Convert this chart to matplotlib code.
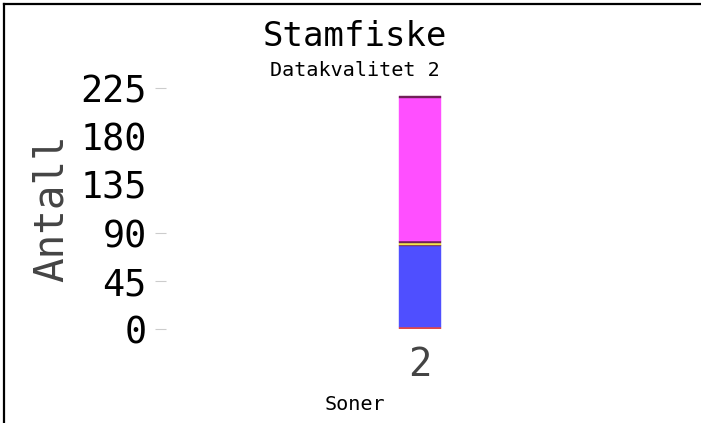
import matplotlib as mpl
mpl.use('Agg')
import matplotlib.pyplot as plt
from matplotlib.lines import Line2D

plt.rcParams['font.family'] = ['DejaVu Sans Mono']

# data
categories = ["2"]
segment_values = [2, 75.5, 1, 2, 1.5, 134, 1.5]
segment_colors = ["#e04848", "#4f4fff", "#702058", "#f2e44a", "#702058", "#ff4fff", "#702058"]
yticks = [0, 45, 90, 135, 180, 225]
ytick_marks = [0, 45, 90, 225]   # the reference shows no marks at 135 and 180

fig = plt.figure(figsize=(7.01, 4.23), dpi=100)
ax = fig.add_axes([166/701, 94/423, (540-166)/701, (329-88)/423])

bottom = 0
for val, col in zip(segment_values, segment_colors):
    ax.bar(categories, [val], bottom=bottom, width=0.8, color=col,
           edgecolor=col, linewidth=0.3)
    bottom += val

ax.set_xlim(-4.85, 2.3)
ax.set_ylim(0, 225)
ax.set_yticks(yticks)
ax.set_yticks(ytick_marks, minor=True)
ax.yaxis.remove_overlapping_locs = False
ax.tick_params(axis='y', which='major', labelsize=26.5, labelcolor="black", length=0, pad=14)
ax.tick_params(axis='y', which='minor', colors="#cccccc", length=8, width=0.8)
ax.tick_params(axis='x', labelsize=28, labelcolor="#444444", length=0, pad=12)
for s in ax.spines.values():
    s.set_visible(False)

ax.set_ylabel("Antall", fontsize=29.5, color="#444444", labelpad=6)

fig.text(0.506, 1 - 37/423, "Stamfiske", fontsize=24.5, ha="center", va="center")
fig.text(0.506, 1 - 71/423, "Datakvalitet 2", fontsize=14.5, ha="center", va="center")
fig.text(0.506, 1 - 404/423, "Soner", fontsize=14.5, ha="center", va="center")

# frame lines (top and left)
fig.add_artist(Line2D([4/701, 0.998], [1 - 4/423, 1 - 4/423], color="black", linewidth=1.6, transform=fig.transFigure))
fig.add_artist(Line2D([4/701, 4/701], [0, 1 - 4/423], color="black", linewidth=1.6, transform=fig.transFigure))

fig.savefig("out.png", dpi=100)
